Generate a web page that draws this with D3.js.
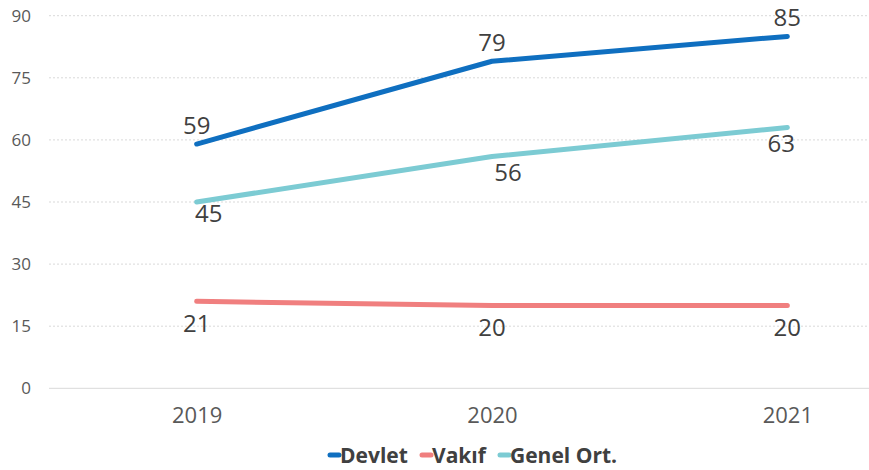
<!DOCTYPE html>
<html><head><meta charset="utf-8">
<script src="https://cdn.jsdelivr.net/npm/d3@7"></script>
<style>body{margin:0;background:#fff}svg{display:block}</style>
</head><body>
<script>
const years = ["2019", "2020", "2021"];
const devlet = [59, 79, 85];
const vakif = [21, 20, 20];
const genel = [45, 56, 63];
const yTicks = [0, 15, 30, 45, 60, 75, 90];
const seriesNames = ["Devlet", "Vakıf", "Genel Ort."];

const W = 869, H = 470;
const svg = d3.select("body").append("svg").attr("width", W).attr("height", H);
const font = "'Open Sans', sans-serif";

const x = d3.scalePoint().domain(years).range([49, 935]).padding(0.5);
const y = d3.scaleLinear().domain([0, 90]).range([388.3, 15.7]);

// gridlines
svg.append("g").selectAll("line").data(yTicks).join("line")
  .attr("x1", 49).attr("x2", W)
  .attr("y1", d => y(d)).attr("y2", d => y(d))
  .attr("stroke", "#d9d9d9").attr("stroke-width", 1)
  .attr("stroke-dasharray", d => d === 0 ? null : "2,2");

// y axis
const yAxis = svg.append("g").attr("transform", "translate(31,0)")
  .call(d3.axisLeft(y).tickValues(yTicks).tickSize(0).tickPadding(0));
yAxis.select(".domain").remove();
yAxis.selectAll("text").attr("font-family", font).attr("font-size", 17).attr("fill", "#595959");

// x axis
const xAxis = svg.append("g").attr("transform", "translate(0,407)")
  .call(d3.axisBottom(x).tickSize(0).tickPadding(0));
xAxis.select(".domain").remove();
xAxis.selectAll("text").attr("font-family", font).attr("font-size", 22).attr("fill", "#595959");

const series = [
  {name: seriesNames[0], values: devlet, color: "#0f6fc0", dy: [-10, -10, -10], dx: [0, 0, 0]},
  {name: seriesNames[1], values: vakif, color: "#f07f7f", dy: [31, 30, 30], dx: [0, 0, 0]},
  {name: seriesNames[2], values: genel, color: "#7ccbd3", dy: [20, 25, 25], dx: [12, 16, -6]}
];

const line = d3.line().x((d, i) => x(years[i])).y(d => y(d));

series.forEach(s => {
  svg.append("path").datum(s.values).attr("d", line)
    .attr("fill", "none").attr("stroke", s.color).attr("stroke-width", 5)
    .attr("stroke-linecap", "round").attr("stroke-linejoin", "round");
});

series.forEach(s => {
  svg.append("g").selectAll("text").data(s.values).join("text")
    .attr("x", (d, i) => x(years[i]) + s.dx[i])
    .attr("y", (d, i) => y(d) + s.dy[i])
    .attr("text-anchor", "middle")
    .attr("font-family", font).attr("font-size", 24).attr("fill", "#404040")
    .text(d => d);
});

// legend
const legendX = [328, 420, 498];
const lg = svg.append("g");
series.forEach((s, i) => {
  const g = lg.append("g").attr("transform", `translate(${legendX[i]},0)`);
  g.append("line").attr("x1", 2).attr("x2", 11).attr("y1", 455).attr("y2", 455)
    .attr("stroke", s.color).attr("stroke-width", 5).attr("stroke-linecap", "round");
  g.append("text").attr("x", 12).attr("y", 463)
    .attr("font-family", font).attr("font-size", 21).attr("font-weight", "bold")
    .attr("fill", "#404040").text(s.name);
});
</script>
</body></html>
